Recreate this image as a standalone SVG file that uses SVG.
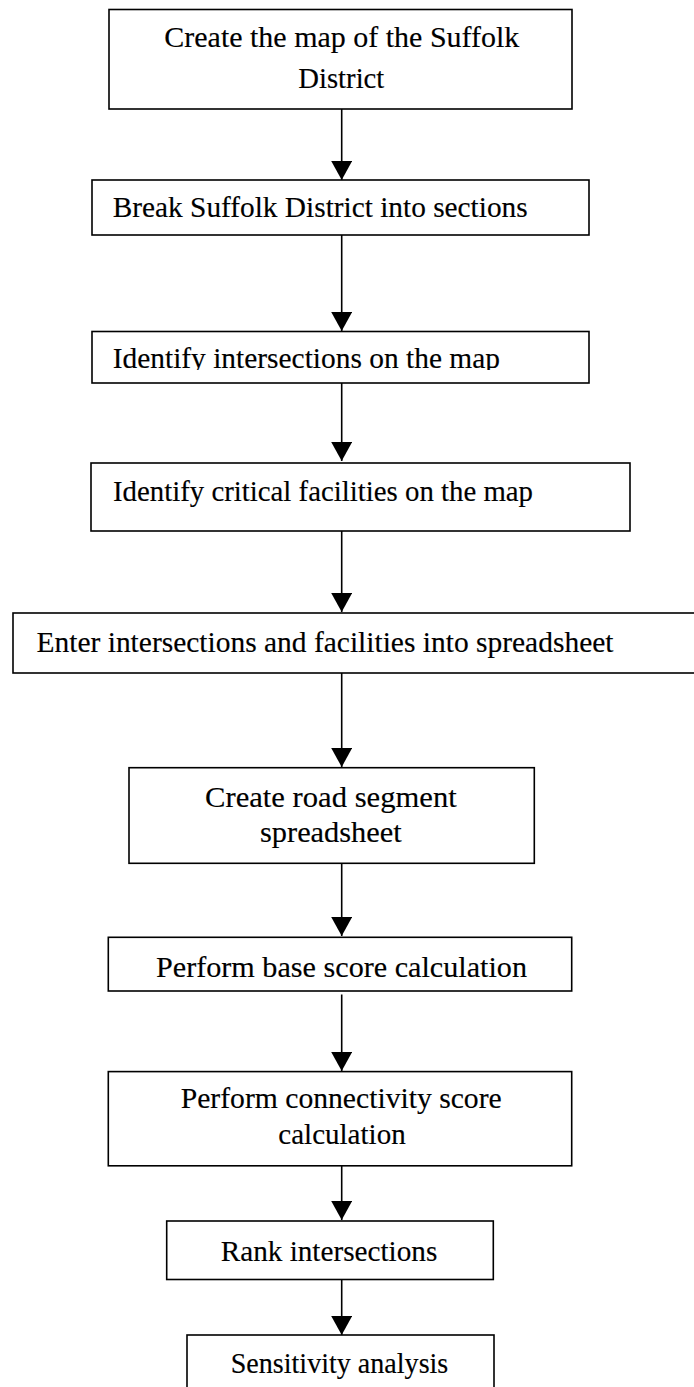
<svg xmlns="http://www.w3.org/2000/svg" width="694" height="1387" viewBox="0 0 694 1387">
<style>
.box{fill:#fff;stroke:#000;stroke-width:1.6}
.lbl{font-family:"Liberation Serif","Times New Roman",serif;font-size:30px;fill:#000;stroke:#000;stroke-width:0.15}
.conn{stroke:#000;stroke-width:1.6;fill:none}
</style>
<defs>
<marker id="ah" markerUnits="userSpaceOnUse" viewBox="0 0 19 21" refX="19" refY="10.5" markerWidth="19" markerHeight="21" orient="auto">
<path d="M0,0 L19,10.5 L0,21 z" fill="#000"/>
</marker>
<clipPath id="clip3"><rect x="92" y="331" width="497" height="39"/></clipPath>
</defs>
<rect width="694" height="1387" fill="#fff"/>
<g id="n1">
<rect class="box" x="109" y="9.5" width="463" height="99.5"/>
<text class="lbl" x="164.3" y="46.7" textLength="355" lengthAdjust="spacingAndGlyphs">Create the map of the Suffolk</text>
<text class="lbl" x="298.3" y="88.3" textLength="86" lengthAdjust="spacingAndGlyphs">District</text>
</g>
<g id="n2">
<rect class="box" x="92" y="180" width="497" height="55"/>
<text class="lbl" x="112.7" y="216.7" textLength="415" lengthAdjust="spacingAndGlyphs">Break Suffolk District into sections</text>
</g>
<g id="n3">
<rect class="box" x="92" y="331.5" width="497" height="51.5"/>
<text class="lbl" x="112.7" y="368.3" textLength="387.3" lengthAdjust="spacingAndGlyphs" clip-path="url(#clip3)">Identify intersections on the map</text>
</g>
<g id="n4">
<rect class="box" x="91" y="463" width="539" height="68"/>
<text class="lbl" x="113" y="501" textLength="420" lengthAdjust="spacingAndGlyphs">Identify critical facilities on the map</text>
</g>
<g id="n5">
<rect class="box" x="13" y="613" width="690" height="60"/>
<text class="lbl" x="36.5" y="652.3" textLength="577" lengthAdjust="spacingAndGlyphs">Enter intersections and facilities into spreadsheet</text>
</g>
<g id="n6">
<rect class="box" x="129" y="767.7" width="405.3" height="95.6"/>
<text class="lbl" x="205" y="806.7" textLength="251.7" lengthAdjust="spacingAndGlyphs">Create road segment</text>
<text class="lbl" x="260" y="842.3" textLength="141.7" lengthAdjust="spacingAndGlyphs">spreadsheet</text>
</g>
<g id="n7">
<rect class="box" x="108.3" y="937.3" width="463.4" height="53.7"/>
<text class="lbl" x="156" y="976.7" textLength="371" lengthAdjust="spacingAndGlyphs">Perform base score calculation</text>
</g>
<g id="n8">
<rect class="box" x="108.3" y="1071.6" width="463.4" height="94.2"/>
<text class="lbl" x="180.7" y="1107.5" textLength="321" lengthAdjust="spacingAndGlyphs">Perform connectivity score</text>
<text class="lbl" x="278.3" y="1143.8" textLength="127.4" lengthAdjust="spacingAndGlyphs">calculation</text>
</g>
<g id="n9">
<rect class="box" x="166.7" y="1221" width="326.6" height="58.5"/>
<text class="lbl" x="220.7" y="1260.5" textLength="216.6" lengthAdjust="spacingAndGlyphs">Rank intersections</text>
</g>
<g id="n10">
<rect class="box" x="187" y="1335" width="307" height="70"/>
<text class="lbl" x="230.7" y="1372.5" textLength="217.6" lengthAdjust="spacingAndGlyphs">Sensitivity analysis</text>
</g>
<g id="connectors">
<line class="conn" x1="341.7" y1="109" x2="341.7" y2="180" marker-end="url(#ah)"/>
<line class="conn" x1="341.7" y1="235" x2="341.7" y2="331" marker-end="url(#ah)"/>
<line class="conn" x1="341.7" y1="383" x2="341.7" y2="461" marker-end="url(#ah)"/>
<line class="conn" x1="341.7" y1="531" x2="341.7" y2="612" marker-end="url(#ah)"/>
<line class="conn" x1="341.7" y1="673" x2="341.7" y2="767" marker-end="url(#ah)"/>
<line class="conn" x1="341.7" y1="863.3" x2="341.7" y2="936" marker-end="url(#ah)"/>
<line class="conn" x1="341.7" y1="994.5" x2="341.7" y2="1071" marker-end="url(#ah)"/>
<line class="conn" x1="341.7" y1="1166" x2="341.7" y2="1220" marker-end="url(#ah)"/>
<line class="conn" x1="341.7" y1="1280" x2="341.7" y2="1335" marker-end="url(#ah)"/>
</g>
</svg>
